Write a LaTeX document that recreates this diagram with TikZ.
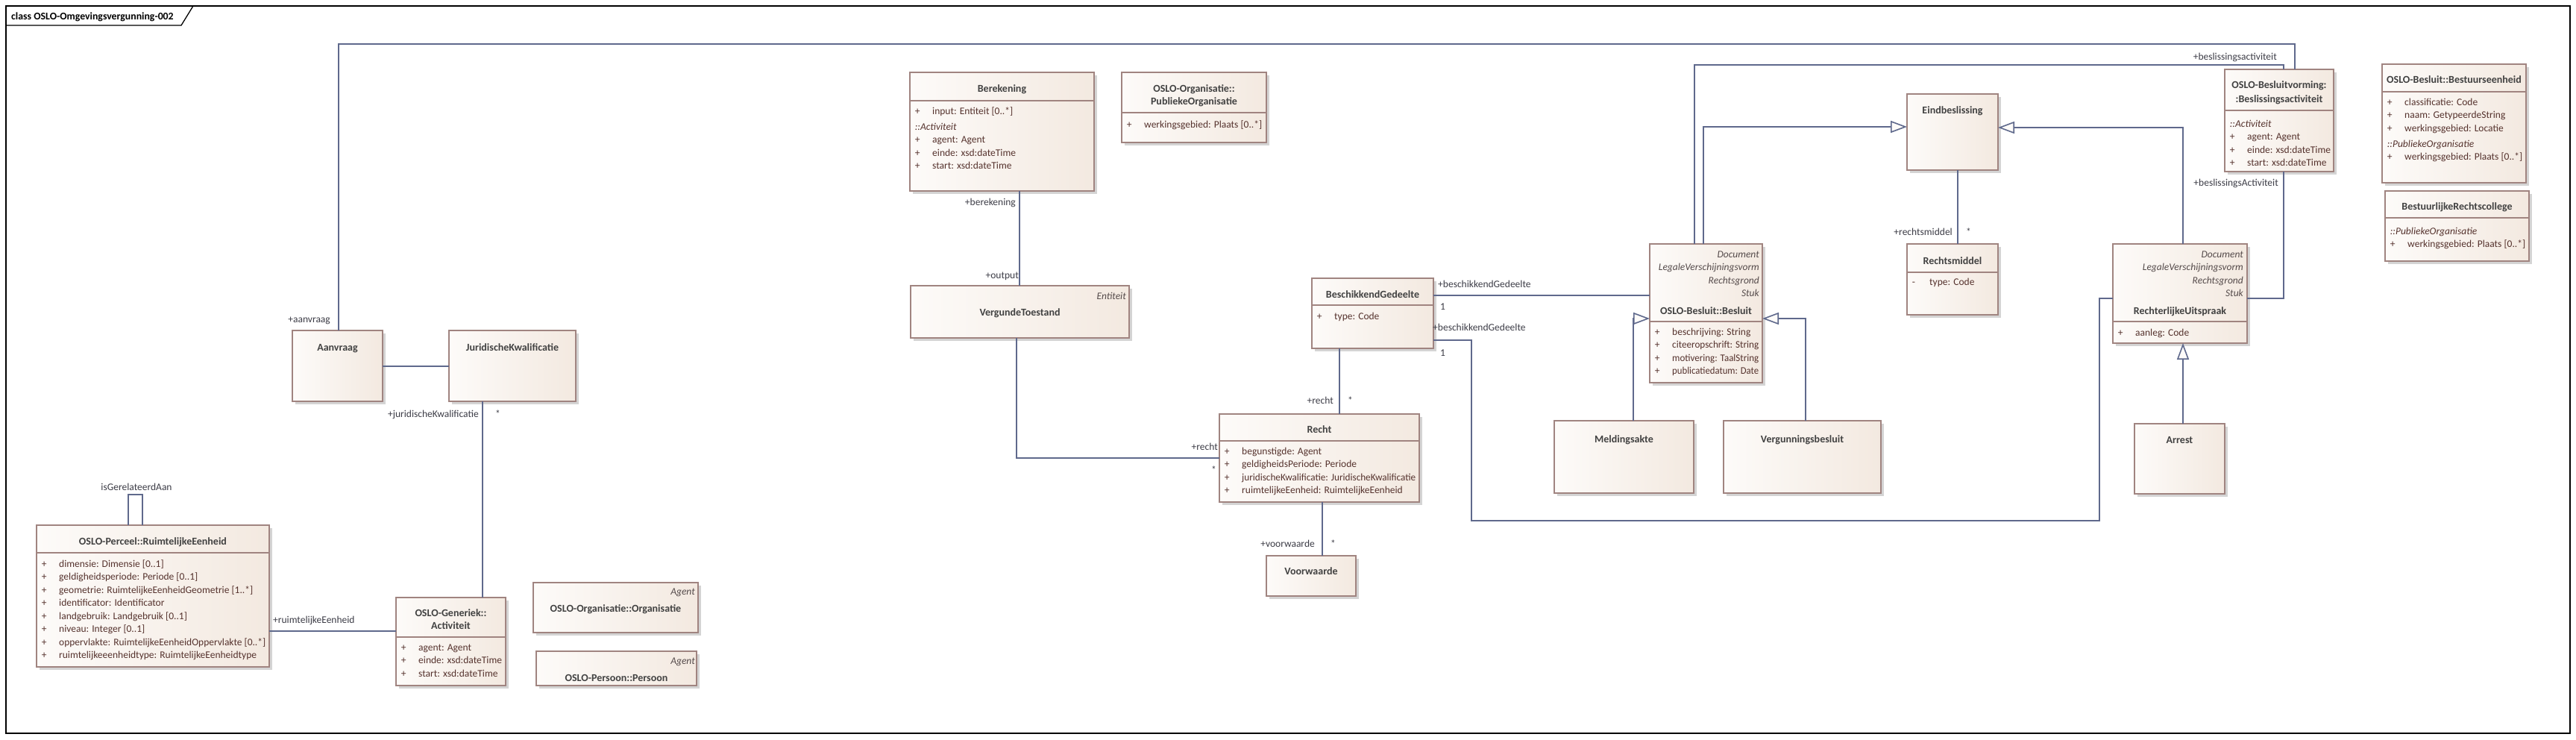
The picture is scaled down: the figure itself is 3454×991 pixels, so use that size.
\documentclass[tikz,border=0pt]{standalone}
\usepackage{fontspec}
\usepackage{graphicx}
\setmainfont{Carlito}
\usetikzlibrary{arrows.meta,calc}
\definecolor{boxL}{RGB}{253,251,249}
\definecolor{boxR}{RGB}{243,233,224}
\definecolor{bord}{RGB}{160,132,128}
\definecolor{shad}{RGB}{212,212,212}
\definecolor{connc}{RGB}{95,105,140}
\definecolor{ttlc}{RGB}{65,65,65}
\definecolor{atx}{RGB}{85,50,45}
\definecolor{lblc}{RGB}{60,60,70}
\definecolor{sterc}{RGB}{85,75,75}
\newsavebox\fitbx
\newcommand\fitw[2]{\sbox\fitbx{#2}\ifdim\wd\fitbx>#1\relax\resizebox{#1}{\height}{\usebox\fitbx}\else\usebox\fitbx\fi}
\newcommand\attrP[1]{\makebox[23.4pt][l]{+}#1}
\newcommand\attrM[1]{\makebox[23.4pt][l]{-}#1}
\newcommand\umlb[5]{%
  \fill[shad] (#2+4,#3+4) rectangle (#4+4,#5+4);
  \node[umlbox, minimum width={(#4)-(#2)}, minimum height={(#5)-(#3)}] (#1) at (#2,#3) {};
}
\tikzset{
  umlbox/.style={draw=bord, line width=1.3pt, left color=boxL, right color=boxR, inner sep=0pt, outer sep=0pt, anchor=north west},
  ttl/.style={font=\fontsize{14}{17.5}\selectfont\bfseries, text=ttlc, inner sep=0pt, anchor=base},
  attrs/.style={font=\fontsize{13.5}{17.45}\selectfont, text=atx, inner sep=0pt, anchor=base west},
  ster/.style={font=\fontsize{13.5}{17.3}\selectfont\itshape, text=sterc, inner sep=0pt, anchor=base east},
  lbl/.style={font=\fontsize{13.5}{16}\selectfont, text=lblc, inner sep=0pt},
  conn/.style={draw=connc, line width=1.6pt},
  gen/.style={conn, -{Triangle[length=22pt,width=16pt,fill=boxL]}},
  sepl/.style={draw=bord, line width=1.2pt},
}
\begin{document}
\begin{tikzpicture}[x=1pt,y=-1pt]
\useasboundingbox (0,0) rectangle (3454,991);
\fill[white] (0,0) rectangle (3454,991);
% frame
\draw[line width=1.3pt] (8,8) rectangle (3446,983);
\draw[line width=1.3pt] (8,34) -- (243,34) -- (259,8);
\node[font=\fontsize{13.8}{16}\selectfont\bfseries, inner sep=0pt, anchor=base west] (frametitle) at (15,26) {class OSLO-Omgevingsvergunning-002};

% boxes
\umlb{Aanv}{392}{443}{513}{538}
\umlb{JK}{602}{443}{772}{538}
\umlb{Perc}{49}{704}{361}{894}
\umlb{Act}{531}{801}{678}{919}
\umlb{Org}{715}{781}{936}{848}
\umlb{Pers}{719}{873}{934}{919}
\umlb{Ber}{1220}{97}{1467}{256}
\umlb{PubOrg}{1504}{97}{1698}{191}
\umlb{VT}{1221}{383}{1514}{453}
\umlb{BG}{1759}{373}{1922}{467}
\umlb{Recht}{1635}{555}{1903}{673}
\umlb{Voor}{1698}{745}{1818}{799}
\umlb{Bes}{2212}{327}{2363}{513}
\umlb{Meld}{2084}{564}{2271}{661}
\umlb{Verg}{2311}{564}{2522}{661}
\umlb{Eind}{2557}{126}{2679}{228}
\umlb{RM}{2557}{327}{2679}{422}
\umlb{BAct}{2983}{93}{3129}{230}
\umlb{RU}{2833}{327}{3013}{460}
\umlb{Arr}{2862}{568}{2983}{662}
\umlb{BE}{3194}{86}{3387}{245}
\umlb{BRC}{3198}{256}{3391}{350}

% separators
\draw[sepl] (49,741) -- (361,741);
\draw[sepl] (531,854) -- (678,854);
\draw[sepl] (1220,135) -- (1467,135);
\draw[sepl] (1504,151) -- (1698,151);
\draw[sepl] (1759,409) -- (1922,409);
\draw[sepl] (1635,591) -- (1903,591);
\draw[sepl] (2212,431) -- (2363,431);
\draw[sepl] (2557,365) -- (2679,365);
\draw[sepl] (2983,148) -- (3129,148);
\draw[sepl] (2833,431) -- (3013,431);
\draw[sepl] (3194,123) -- (3387,123);
\draw[sepl] (3198,292) -- (3391,292);

% titles
\node[ttl] (AanvT) at (452.5,470) {Aanvraag};
\node[ttl] (JKT) at (687,470) {JuridischeKwalificatie};
\node[ttl] (PercT) at (205,730) {OSLO-Perceel::RuimtelijkeEenheid};
\node[ttl] (ActT1) at (604.5,826) {OSLO-Generiek::};
\node[ttl] (ActT2) at (604.5,843) {Activiteit};
\node[ttl] (OrgT) at (825.5,820) {OSLO-Organisatie::Organisatie};
\node[ttl] (PersT) at (826.5,913) {OSLO-Persoon::Persoon};
\node[ttl] (BerT) at (1343.5,123) {Berekening};
\node[ttl] (PubOrgT1) at (1601,123) {OSLO-Organisatie::};
\node[ttl] (PubOrgT2) at (1601,140) {PubliekeOrganisatie};
\node[ttl] (VTT) at (1367.5,423) {VergundeToestand};
\node[ttl] (BGT) at (1840.5,399) {BeschikkendGedeelte};
\node[ttl] (RechtT) at (1769,580) {Recht};
\node[ttl] (VoorT) at (1758,770) {Voorwaarde};
\node[ttl] (BesT) at (2287.5,421) {OSLO-Besluit::Besluit};
\node[ttl] (MeldT) at (2177.5,593) {Meldingsakte};
\node[ttl] (VergT) at (2416.5,593) {Vergunningsbesluit};
\node[ttl] (EindT) at (2618,152) {Eindbeslissing};
\node[ttl] (RMT) at (2618,354) {Rechtsmiddel};
\node[ttl] (BActT1) at (3056,118) {OSLO-Besluitvorming:};
\node[ttl] (BActT2) at (3056,137) {:Beslissingsactiviteit};
\node[ttl] (RUT) at (2923,421) {RechterlijkeUitspraak};
\node[ttl] (ArrT) at (2922.5,594) {Arrest};
\node[ttl] (BET) at (3290.5,111) {OSLO-Besluit::Bestuurseenheid};
\node[ttl] (BRCT) at (3294.5,281) {BestuurlijkeRechtscollege};

% stereotypes
\node[ster] (VTS) at (1510,401.5) {Entiteit};
\node[ster] (OrgS) at (932,797.5) {Agent};
\node[ster] (PersS) at (932,890.5) {Agent};
\node[ster] (BesS) at (2359,345.5) {\begin{tabular}[t]{@{}r@{}}Document\\LegaleVerschijningsvorm\\Rechtsgrond\\Stuk\end{tabular}};
\node[ster] (RUS) at (3008,345.5) {\begin{tabular}[t]{@{}r@{}}Document\\LegaleVerschijningsvorm\\Rechtsgrond\\Stuk\end{tabular}};

% attributes
\node[attrs] (PercA) at (55.6,760.5) {\begin{tabular}[t]{@{}l@{}}
\attrP{dimensie: Dimensie [0..1]}\\
\attrP{geldigheidsperiode: Periode [0..1]}\\
\attrP{geometrie: RuimtelijkeEenheidGeometrie [1..*]}\\
\attrP{identificator: Identificator}\\
\attrP{landgebruik: Landgebruik [0..1]}\\
\attrP{niveau: Integer [0..1]}\\
\attrP{\fitw{277pt}{oppervlakte: RuimtelijkeEenheidOppervlakte [0..*]}}\\
\attrP{ruimtelijkeeenheidtype: RuimtelijkeEenheidtype}\end{tabular}};
\node[attrs] (ActA) at (537.6,872.5) {\begin{tabular}[t]{@{}l@{}}
\attrP{agent: Agent}\\
\attrP{\fitw{113pt}{einde: xsd:dateTime}}\\
\attrP{\fitw{113pt}{start: xsd:dateTime}}\end{tabular}};
\node[attrs] (BerA) at (1226.6,153.5) {\begin{tabular}[t]{@{}l@{}}
\attrP{input: Entiteit [0..*]}\\[3.5pt]
{\itshape ::Activiteit}\\
\attrP{agent: Agent}\\
\attrP{einde: xsd:dateTime}\\
\attrP{start: xsd:dateTime}\end{tabular}};
\node[attrs] (PubOrgA) at (1510.6,171.5) {\attrP{\fitw{160pt}{werkingsgebied: Plaats [0..*]}}};
\node[attrs] (BGA) at (1765.6,428.5) {\attrP{type: Code}};
\node[attrs] (RechtA) at (1641.6,609.5) {\begin{tabular}[t]{@{}l@{}}
\attrP{begunstigde: Agent}\\
\attrP{geldigheidsPeriode: Periode}\\
\attrP{\fitw{233pt}{juridischeKwalificatie: JuridischeKwalificatie}}\\
\attrP{\fitw{233pt}{ruimtelijkeEenheid: RuimtelijkeEenheid}}\end{tabular}};
\node[attrs] (BesA) at (2218.6,449.5) {\begin{tabular}[t]{@{}l@{}}
\attrP{\fitw{116pt}{beschrijving: String}}\\
\attrP{\fitw{116pt}{citeeropschrift: String}}\\
\attrP{\fitw{116pt}{motivering: TaalString}}\\
\attrP{\fitw{116pt}{publicatiedatum: Date}}\end{tabular}};
\node[attrs] (RMA) at (2563.6,382.5) {\attrM{type: Code}};
\node[attrs] (BActA) at (2989.6,170.5) {\begin{tabular}[t]{@{}l@{}}
{\itshape ::Activiteit}\\
\attrP{agent: Agent}\\
\attrP{\fitw{112pt}{einde: xsd:dateTime}}\\
\attrP{\fitw{112pt}{start: xsd:dateTime}}\end{tabular}};
\node[attrs] (RUA) at (2839.6,450.5) {\attrP{aanleg: Code}};
\node[attrs] (BEA) at (3200.6,141.5) {\begin{tabular}[t]{@{}l@{}}
\attrP{classificatie: Code}\\
\attrP{naam: GetypeerdeString}\\
\attrP{werkingsgebied: Locatie}\\[3.5pt]
{\itshape ::PubliekeOrganisatie}\\
\attrP{\fitw{158pt}{werkingsgebied: Plaats [0..*]}}\end{tabular}};
\node[attrs] (BRCA) at (3204.6,314.5) {\begin{tabular}[t]{@{}l@{}}
{\itshape ::PubliekeOrganisatie}\\
\attrP{\fitw{158pt}{werkingsgebied: Plaats [0..*]}}\end{tabular}};

% connectors
\draw[conn] ($(Aanv.north west)+(62,0)$) -- ++(0,-384) -| ($(BAct.north west)+(94,0)$);
\draw[conn] ($(Aanv.north east)+(0,48)$) -- ($(JK.north west)+(0,48)$);
\draw[conn] ($(JK.south west)+(45,0)$) -- ($(Act.north west)+(116,0)$);
\draw[conn] ($(Perc.north east)+(0,142)$) -- ($(Act.north west)+(0,45)$);
\draw[conn] ($(Perc.north west)+(123,0)$) -- ++(0,-41) -| ($(Perc.north west)+(142,0)$);
\draw[conn] ($(Ber.south west)+(147,0)$) -- ($(VT.north west)+(146,0)$);
\draw[conn] ($(VT.south west)+(142,0)$) |- ($(Recht.north west)+(0,59)$);
\draw[conn] ($(BG.south west)+(37,0)$) -- ($(Recht.north west)+(161,0)$);
\draw[conn] ($(Recht.south west)+(138,0)$) -- ($(Voor.north west)+(75,0)$);
\draw[conn] ($(BG.north east)+(0,23)$) -- ($(Bes.north west)+(0,69)$);
\draw[conn] ($(BG.north east)+(0,83)$) -- ++(51,0) |- ($(RU.north west)+(-18,371)$) |- ($(RU.north west)+(0,73)$);
\draw[conn] ($(Bes.north west)+(60,0)$) -- ++(0,-240) -| ($(BAct.north west)+(79,0)$);
\draw[gen] ($(Bes.north west)+(72,0)$) |- ($(Eind.north west)+(0,44)$);
\draw[gen] ($(RU.north west)+(94,0)$) |- ($(Eind.north east)+(0,45)$);
\draw[conn] ($(Eind.south west)+(68,0)$) -- ($(RM.north west)+(68,0)$);
\draw[conn] ($(BAct.south west)+(79,0)$) |- ($(RU.north east)+(0,73)$);
\draw[gen] ($(Arr.north west)+(65,0)$) -- ($(RU.south west)+(94,0)$);
\draw[gen] ($(Meld.north west)+(106,0)$) |- ($(Bes.north west)+(0,100)$);
\draw[gen] ($(Verg.north west)+(110,0)$) |- ($(Bes.north east)+(0,100)$);

% labels
\node[lbl, anchor=base east] (lAanv) at (443,432.5) {+aanvraag};
\node[lbl, anchor=base east] (lJK) at (642,559.5) {+juridischeKwalificatie};
\node[lbl, anchor=base west] (mJK) at (664,559.5) {*};
\node[lbl, anchor=base west] (lRE) at (366,835.5) {+ruimtelijkeEenheid};
\node[lbl, anchor=base] (lGer) at (183,657.5) {isGerelateerdAan};
\node[lbl, anchor=base east] (lBer) at (1362,275.5) {+berekening};
\node[lbl, anchor=base east] (lOut) at (1366,373.5) {+output};
\node[lbl, anchor=base east] (lRecht1) at (1788,541.5) {+recht};
\node[lbl, anchor=base west] (mRecht1) at (1807,541.5) {*};
\node[lbl, anchor=base east] (lRecht2) at (1633,603.5) {+recht};
\node[lbl, anchor=base west] (mRecht2) at (1624,634) {*};
\node[lbl, anchor=base east] (lVoor) at (1763,733.5) {+voorwaarde};
\node[lbl, anchor=base west] (mVoor) at (1784,733.5) {*};
\node[lbl, anchor=base west] (lBG1) at (1928,385.5) {+beschikkendGedeelte};
\node[lbl, anchor=base west] (mBG1) at (1931,415.5) {1};
\node[lbl, anchor=base west] (lBG2) at (1921,443.5) {+beschikkendGedeelte};
\node[lbl, anchor=base west] (mBG2) at (1931,477.5) {1};
\node[lbl, anchor=base east] (lRM) at (2618,315.5) {+rechtsmiddel};
\node[lbl, anchor=base west] (mRM) at (2636,315.5) {*};
\node[lbl, anchor=base east] (lBA1) at (3053,80.5) {+beslissingsactiviteit};
\node[lbl, anchor=base east] (lBA2) at (3055,249.5) {+beslissingsActiviteit};
\end{tikzpicture}
\end{document}
